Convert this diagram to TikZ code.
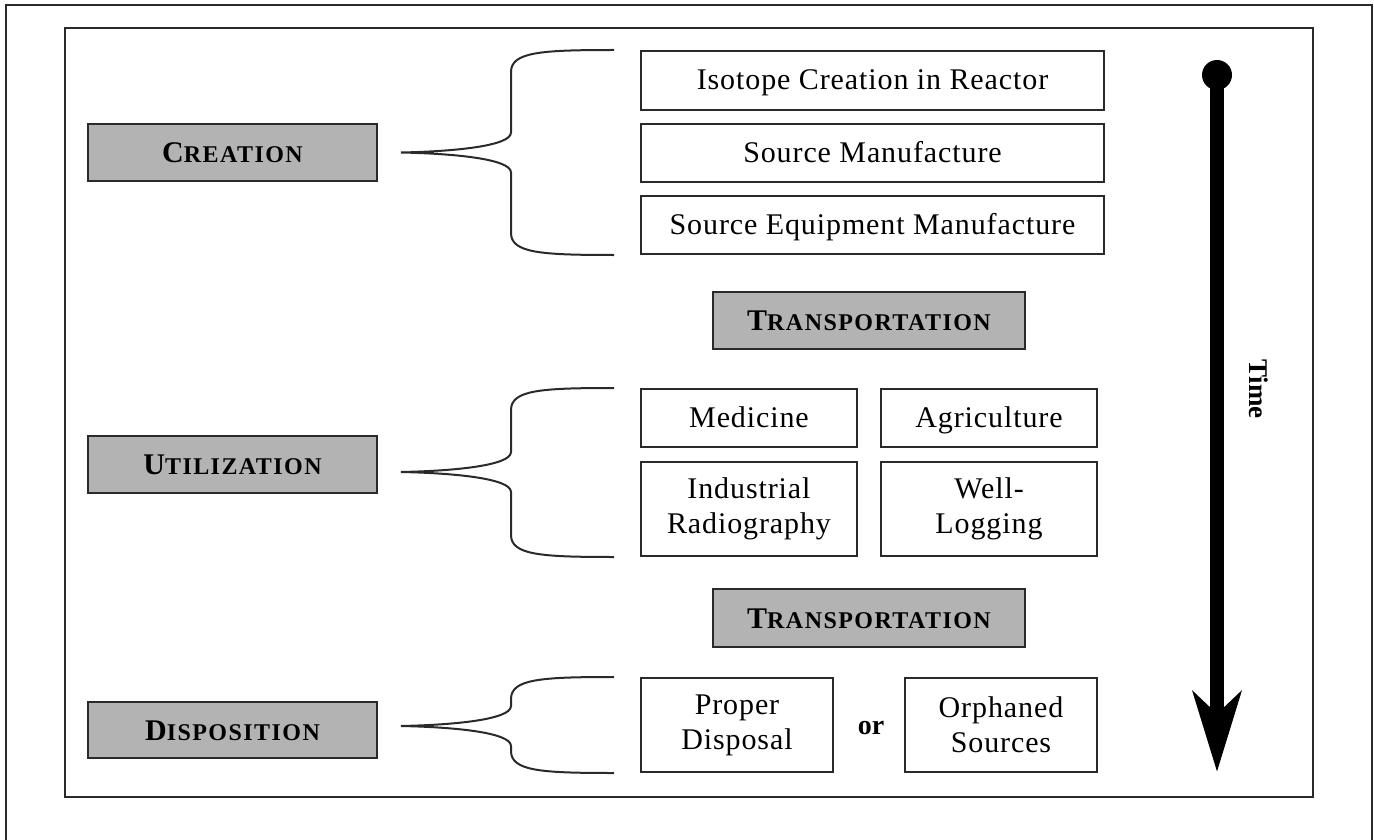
\documentclass[tikz,border=0pt]{standalone}
\usepackage{fontspec}
\setmainfont{Liberation Serif}
\newfontfamily\itemfont[LetterSpace=3]{Liberation Serif}
\newfontfamily\stagefont[LetterSpace=6]{Liberation Serif}
\usetikzlibrary{arrows.meta,calc}
\definecolor{boxgray}{HTML}{B3B3B3}
\definecolor{edge}{HTML}{2A2A2A}
% bold label with a large initial and smaller capitals after it
\newcommand{\stagename}[2]{{\stagefont\bfseries\fontsize{30}{36}\selectfont #1\fontsize{24}{28}\selectfont #2}}
% curly brace from a tip coordinate to a top end and a bottom end
\newcommand{\drawbrace}[3]{%
  \draw[brace] let \p1=(#1), \p2=(#2), \p3=(#3) in
    (\p2) .. controls (\x1+140pt,\y2) and (\x1+110pt,\y2-2pt) .. (\x1+110pt,\y2-22pt)
    -- (\x1+110pt,\y1+20pt) .. controls (\x1+110pt,\y1+6pt) and (\x1+50pt,\y1+1pt) .. (\p1)
    .. controls (\x1+50pt,\y1-1pt) and (\x1+110pt,\y1-6pt) .. (\x1+110pt,\y1-20pt)
    -- (\x1+110pt,\y3+22pt) .. controls (\x1+110pt,\y3+2pt) and (\x1+140pt,\y3) .. (\p3);}
\begin{document}
\begin{tikzpicture}[x=1pt,y=-1pt,
  stage/.style={draw=edge, line width=2pt, fill=boxgray, minimum width=289pt,
    minimum height=57pt, inner sep=0pt, text height=21pt, text depth=1pt},
  trans/.style={stage, minimum width=312pt},
  item/.style={draw=edge, line width=2pt, fill=white, inner sep=0pt, align=center,
    font=\itemfont\fontsize{30}{35}\selectfont},
  oneline/.style={text height=22pt, text depth=3pt},
  brace/.style={draw=edge, line width=2pt},
]
\useasboundingbox (0,0) rectangle (1374,840);
% page frame and inner frame
\draw[line width=1.5pt, draw=edge] (6,840) -- (6,5) -- (1372,5) -- (1372,840);
\draw[line width=2.5pt, draw=edge] (65,28) rectangle (1313,797);

% life-cycle stages
\node[stage] (creation) at (232.5,152.5) {\stagename{C}{REATION}};
\node[stage] (utilization) at (232.5,464) {\stagename{U}{TILIZATION}};
\node[stage, minimum height=56pt] (disposition) at (232.5,730) {\stagename{D}{ISPOSITION}};

% creation group
\node[item, oneline, minimum width=463pt, minimum height=59pt] (iso) at (872.5,80.5) {Isotope Creation in Reactor};
\node[item, oneline, minimum width=463pt, minimum height=58pt] (srcman) at (872.5,153) {Source Manufacture};
\node[item, oneline, minimum width=463pt, minimum height=58pt] (srceq) at (872.5,225) {Source Equipment Manufacture};

\node[trans] (trans1) at (869,320.5) {\stagename{T}{RANSPORTATION}};

% utilization group
\node[item, oneline, minimum width=216pt, minimum height=58pt] (med) at (749,418) {Medicine};
\node[item, oneline, minimum width=216pt, minimum height=58pt] (agr) at (989,418) {Agriculture};
\node[item, minimum width=216pt, minimum height=94pt] (ind) at (749,509) {Industrial\\Radiography};
\node[item, minimum width=216pt, minimum height=94pt] (well) at (989,509) {Well-\\Logging};

\node[trans, minimum height=58pt] (trans2) at (869,618) {\stagename{T}{RANSPORTATION}};

% disposition group
\node[item, minimum width=192pt, minimum height=94pt] (proper) at (737,725) {Proper\\Disposal};
\node[item, minimum width=192pt, minimum height=94pt] (orph) at (1001,725) {Orphaned\\Sources};
\node[font=\bfseries\fontsize{28}{30}\selectfont] (or) at (871,728) {or};

% braces
\coordinate (cb) at ($(creation.east)+(23,0)$);
\coordinate (cbt) at ($(iso.north west)+(-26,0)$);
\coordinate (cbb) at ($(srceq.south west)+(-26,0)$);
\coordinate (ub) at ($(utilization.east)+(23,8)$);
\coordinate (ubt) at ($(med.north west)+(-26,0)$);
\coordinate (ubb) at ($(ind.south west)+(-26,0)$);
\coordinate (db) at ($(disposition.east)+(23,-4)$);
\coordinate (dbt) at ($(proper.north west)+(-26,0)$);
\coordinate (dbb) at ($(proper.south west)+(-26,0)$);
\drawbrace{cb}{cbt}{cbb}
\drawbrace{ub}{ubt}{ubb}
\drawbrace{db}{dbt}{dbb}

% time axis
\node[circle, fill=black, minimum size=30pt, inner sep=0pt] (tdot) at (1217,75) {};
\coordinate (tend) at (1217,772);
\draw[line width=14pt, -{Stealth[length=80pt, width=48pt, inset=22pt]}] (tdot.center) -- (tend);
\node[rotate=-90, font=\bfseries\fontsize{27}{30}\selectfont] (time) at (1259,389) {Time};
\end{tikzpicture}
\end{document}
